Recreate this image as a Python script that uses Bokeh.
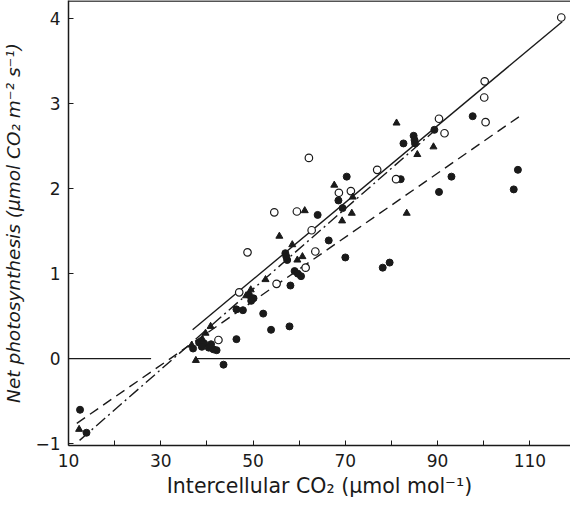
from bokeh.plotting import figure
from bokeh.models import FixedTicker, Span
from bokeh.embed import file_html
from bokeh.resources import INLINE

# ---- data ----
filled_x = [12.5, 13.9, 37.0, 38.3, 39.4, 40.4, 41.4, 42.1, 38.9, 40.9, 43.6, 46.4, 46.4, 47.8,
            49.1, 50.1, 49.6, 52.2, 53.9, 57.9, 57.0, 57.4, 57.2, 58.1, 59.0, 60.4, 59.7, 64.0,
            66.4, 68.5, 69.4, 70.3, 70.0, 78.1, 79.6, 82.0, 82.6, 84.8, 85.1, 85.0, 89.3, 90.3,
            93.0, 97.6, 106.5, 107.4]
filled_y = [-0.60, -0.87, 0.12, 0.19, 0.18, 0.13, 0.11, 0.10, 0.14, 0.17, -0.07, 0.23, 0.58, 0.57,
            0.75, 0.71, 0.68, 0.53, 0.34, 0.38, 1.24, 1.16, 1.20, 0.86, 1.03, 0.97, 1.00, 1.69,
            1.39, 1.86, 1.77, 2.14, 1.19, 1.07, 1.13, 2.11, 2.53, 2.62, 2.53, 2.57, 2.69, 1.96,
            2.14, 2.85, 1.99, 2.22]

open_x = [42.5, 47.0, 48.8, 54.6, 55.1, 59.5, 61.4, 62.1, 62.7, 63.5, 68.6, 71.2, 76.9, 81.0,
          90.3, 91.5, 100.1, 100.2, 100.4, 116.8]
open_y = [0.22, 0.78, 1.25, 1.72, 0.88, 1.73, 1.07, 2.36, 1.51, 1.26, 1.95, 1.97, 2.22, 2.11,
          2.82, 2.65, 3.07, 3.26, 2.78, 4.01]

tri_x = [12.3, 36.7, 37.6, 39.7, 40.8, 39.0, 49.5, 48.5, 52.7, 55.7, 58.5, 59.6, 60.7, 61.2,
         67.6, 69.3, 71.4, 71.6, 81.1, 83.3, 85.6, 89.1]
tri_y = [-0.83, 0.16, -0.02, 0.30, 0.38, 0.23, 0.81, 0.74, 0.93, 1.44, 1.34, 1.16, 1.20, 1.74,
         2.04, 1.62, 1.71, 1.90, 2.77, 1.71, 2.40, 2.49]

solid_x = [36.9, 117.0]
solid_y = [0.34, 3.96]
dashdot_x = [12.4, 90.2]
dashdot_y = [-0.96, 2.72]
dashed_x = [11.8, 108.6]
dashed_y = [-0.76, 2.88]
zero_left_x = [10, 27.9]
zero_right_x = [37.8, 118.8]
zero_y = [0, 0]

x_major = [10, 30, 50, 70, 90, 110]
x_minor = [20, 40, 60, 80, 100]
y_major = [-1, 0, 1, 2, 3, 4]

X_START, X_END = 10, 118.8
Y_START, Y_END = -1.02, 4.21

INK = "#1a1a1a"
FONT = "DejaVu Sans"

p = figure(width=570, height=501, x_range=(X_START, X_END), y_range=(Y_START, Y_END),
           output_backend="svg", toolbar_location=None,
           min_border_left=60, min_border_right=0, min_border_top=0, min_border_bottom=56)
p.outline_line_color = None
p.grid.visible = False
p.background_fill_color = "white"

# top border line
p.add_layout(Span(location=Y_END - 0.006, dimension="width", line_color=INK, line_width=1.5))

# reference lines
p.line(zero_left_x, zero_y, line_color=INK, line_width=1.3)
p.line(zero_right_x, zero_y, line_color=INK, line_width=1.3)
p.line(solid_x, solid_y, line_color=INK, line_width=1.4)
p.line(dashdot_x, dashdot_y, line_color=INK, line_width=1.4, line_dash="12 4 2 4")
p.line(dashed_x, dashed_y, line_color=INK, line_width=1.4, line_dash="10 6")

# points
p.scatter(filled_x, filled_y, marker="circle", size=7, fill_color=INK, line_color=INK)
p.scatter(open_x, open_y, marker="circle", size=7.5, fill_color="white", line_color=INK, line_width=1.2)
p.scatter(tri_x, tri_y, marker="triangle", size=7, fill_color=INK, line_color=INK)

# axes
xa = p.xaxis[0]
xa.ticker = FixedTicker(ticks=x_major, minor_ticks=x_minor)
xa.major_tick_in = 5
xa.major_tick_out = 0
xa.minor_tick_in = 5
xa.minor_tick_out = 0
xa.axis_line_width = 1.5
xa.axis_line_color = INK
xa.major_tick_line_color = INK
xa.minor_tick_line_color = INK
xa.major_label_text_font = FONT
xa.major_label_text_font_size = "17px"
xa.major_label_text_color = INK
xa.major_label_standoff = 8
xa.axis_label = "Intercellular CO\u2082 (\u03bcmol mol\u207b\u00b9)"
xa.axis_label_text_font = FONT
xa.axis_label_text_font_size = "20.5px"
xa.axis_label_text_font_style = "normal"
xa.axis_label_text_color = INK
xa.axis_label_standoff = 4

ya = p.yaxis[0]
ya.ticker = FixedTicker(ticks=y_major, minor_ticks=[])
ya.major_tick_in = 5
ya.major_tick_out = 0
ya.minor_tick_in = 0
ya.minor_tick_out = 0
ya.axis_line_width = 1.5
ya.axis_line_color = INK
ya.major_tick_line_color = INK
ya.major_label_overrides = {-1: "\u22121"}
ya.major_label_text_font = FONT
ya.major_label_text_font_size = "17px"
ya.major_label_text_color = INK
ya.major_label_standoff = 8
ya.axis_label = "Net photosynthesis (\u03bcmol CO\u2082 m\u207b\u00b2 s\u207b\u00b9)"
ya.axis_label_text_font = FONT
ya.axis_label_text_font_size = "18.5px"
ya.axis_label_text_font_style = "italic"
ya.axis_label_text_color = INK
ya.axis_label_standoff = 8

open("out.html", "w").write(file_html(p, INLINE))
